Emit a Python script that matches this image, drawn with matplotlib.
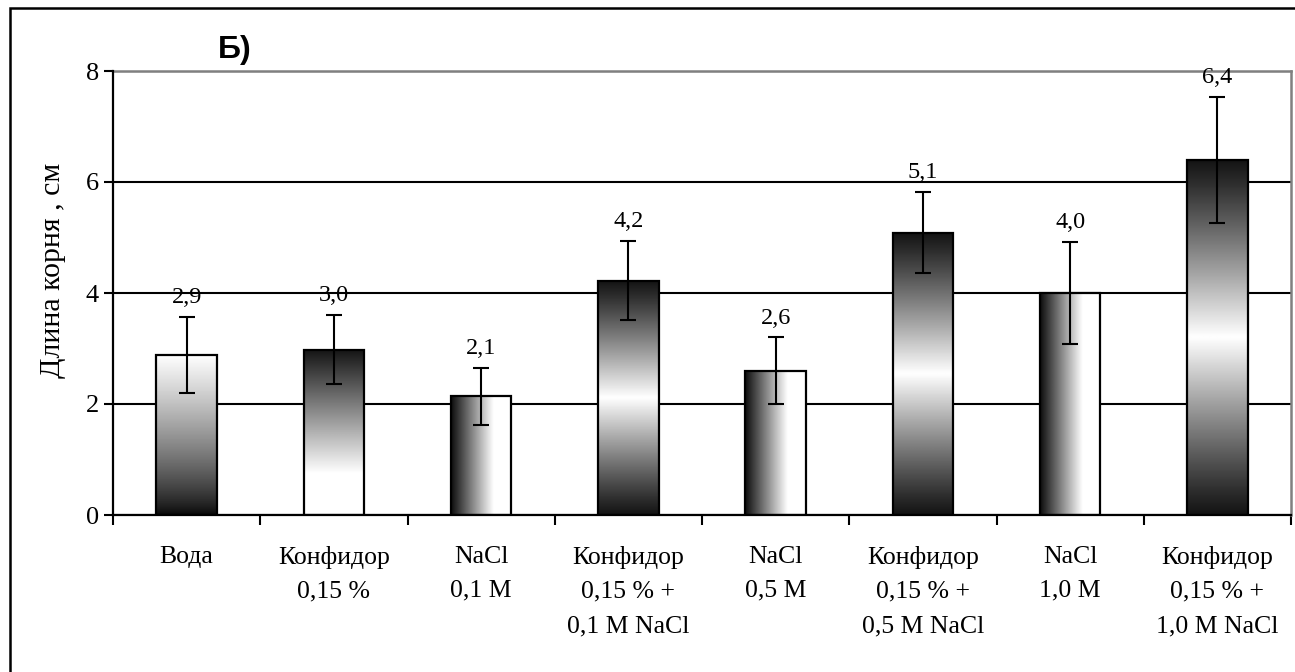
import numpy as np
import matplotlib
matplotlib.use('Agg')
import matplotlib.pyplot as plt
from matplotlib.patches import Rectangle

# --- data ---
categories = ['Вода', 'Конфидор\n0,15 %', 'NaCl\n0,1 M', 'Конфидор\n0,15 % +\n0,1 M NaCl',
              'NaCl\n0,5 M', 'Конфидор\n0,15 % +\n0,5 M NaCl', 'NaCl\n1,0 M',
              'Конфидор\n0,15 % +\n1,0 M NaCl']
root_len = [2.88, 2.98, 2.14, 4.22, 2.60, 5.09, 4.00, 6.40]
root_err = [0.69, 0.62, 0.51, 0.71, 0.60, 0.73, 0.92, 1.13]
y_ticks = [0, 2, 4, 6, 8]
y_label = 'Длина корня , см'
panel = 'Б)'

# fill style of each bar (gradient direction)
fills = ['down', 'up', 'h', 'mid', 'h', 'mid', 'h', 'mid']

plt.rcParams['font.family'] = ['Liberation Serif', 'DejaVu Serif']

W, H = 1295, 672
fig = plt.figure(figsize=(W / 100, H / 100), dpi=100)
ax = fig.add_axes([113 / W, 1 - 515 / H, (1291 - 113) / W, (515 - 71) / H])


def grad(kind, n=200):
    t = np.linspace(0, 1, n)
    if kind == 'down':      # white top, black bottom
        v = 0.03 + 0.97 * t ** 0.8
        return v[:, None] * np.ones((1, 2))
    if kind == 'up':        # black top, white bottom
        v = np.clip(0.08 + 0.92 * (1 - t) / 0.75, 0, 1)
        return v[:, None] * np.ones((1, 2))
    if kind == 'h':         # black left, white right
        v = np.clip(0.05 + 0.95 * t / 0.7, 0, 1)
        return np.ones((2, 1)) * v[None, :]
    v = 0.08 + 0.92 * (1 - np.abs(2 * t - 1)) ** 1.1
    return v[:, None] * np.ones((1, 2))


x = np.arange(len(categories))
bw = 0.41
bars = ax.bar(x, root_len, width=bw, facecolor='none', edgecolor='black', linewidth=1.6, zorder=3)
for b, kind in zip(bars, fills):
    x0, w, h = b.get_x(), b.get_width(), b.get_height()
    im = ax.imshow(grad(kind), cmap='gray', vmin=0, vmax=1, origin='lower',
                   extent=(x0, x0 + w, 0, h), aspect='auto', interpolation='bilinear', zorder=2)
    im.set_clip_path(b)

ax.errorbar(x, root_len, yerr=root_err, fmt='none', ecolor='black', elinewidth=1.5,
            capsize=5.5, capthick=1.5, zorder=4)

for xi, v, e in zip(x, root_len, root_err):
    ax.annotate(f'{v:.1f}'.replace('.', ','), (xi, v + e), xytext=(0, 10), textcoords='offset points',
                ha='center', va='baseline', fontsize=17.5)

ax.set_xlim(-0.5, len(categories) - 0.5)
ax.set_ylim(0, 8)
ax.set_yticks(y_ticks)
ax.set_yticklabels([str(t) for t in y_ticks], fontsize=19)
ax.tick_params(axis='y', direction='out', length=6.5, width=1.5, pad=3.5)

ax.set_xticks(np.arange(len(categories) + 1) - 0.5)
ax.set_xticklabels([])
ax.tick_params(axis='x', which='major', direction='out', length=7.5, width=1.5)
ax.set_xticks(x, minor=True)
ax.set_xticklabels(categories, minor=True, fontsize=18.5, linespacing=1.72)
ax.tick_params(axis='x', which='minor', length=0, pad=22)

ax.yaxis.grid(True, color='black', linewidth=1.5)
ax.set_axisbelow(True)
for s in ['left', 'bottom']:
    ax.spines[s].set_linewidth(1.6)
    ax.spines[s].set_zorder(5)
for s in ['top', 'right']:
    ax.spines[s].set_color('#808080')
    ax.spines[s].set_linewidth(1.8)

fig.text(53 / W, 1 - 270 / H, y_label, rotation=90, ha='center', va='center', fontsize=21.5)
fig.text(235 / W, 1 - 50 / H, panel, ha='center', va='center', fontsize=23,
         fontweight='bold', family='Liberation Sans')

frame = Rectangle((10 / W, -0.05), 1.2, 1 - 8 / H + 0.05, transform=fig.transFigure,
                  fill=False, edgecolor='black', linewidth=1.8)
fig.add_artist(frame)

fig.savefig('out.png', dpi=100)
